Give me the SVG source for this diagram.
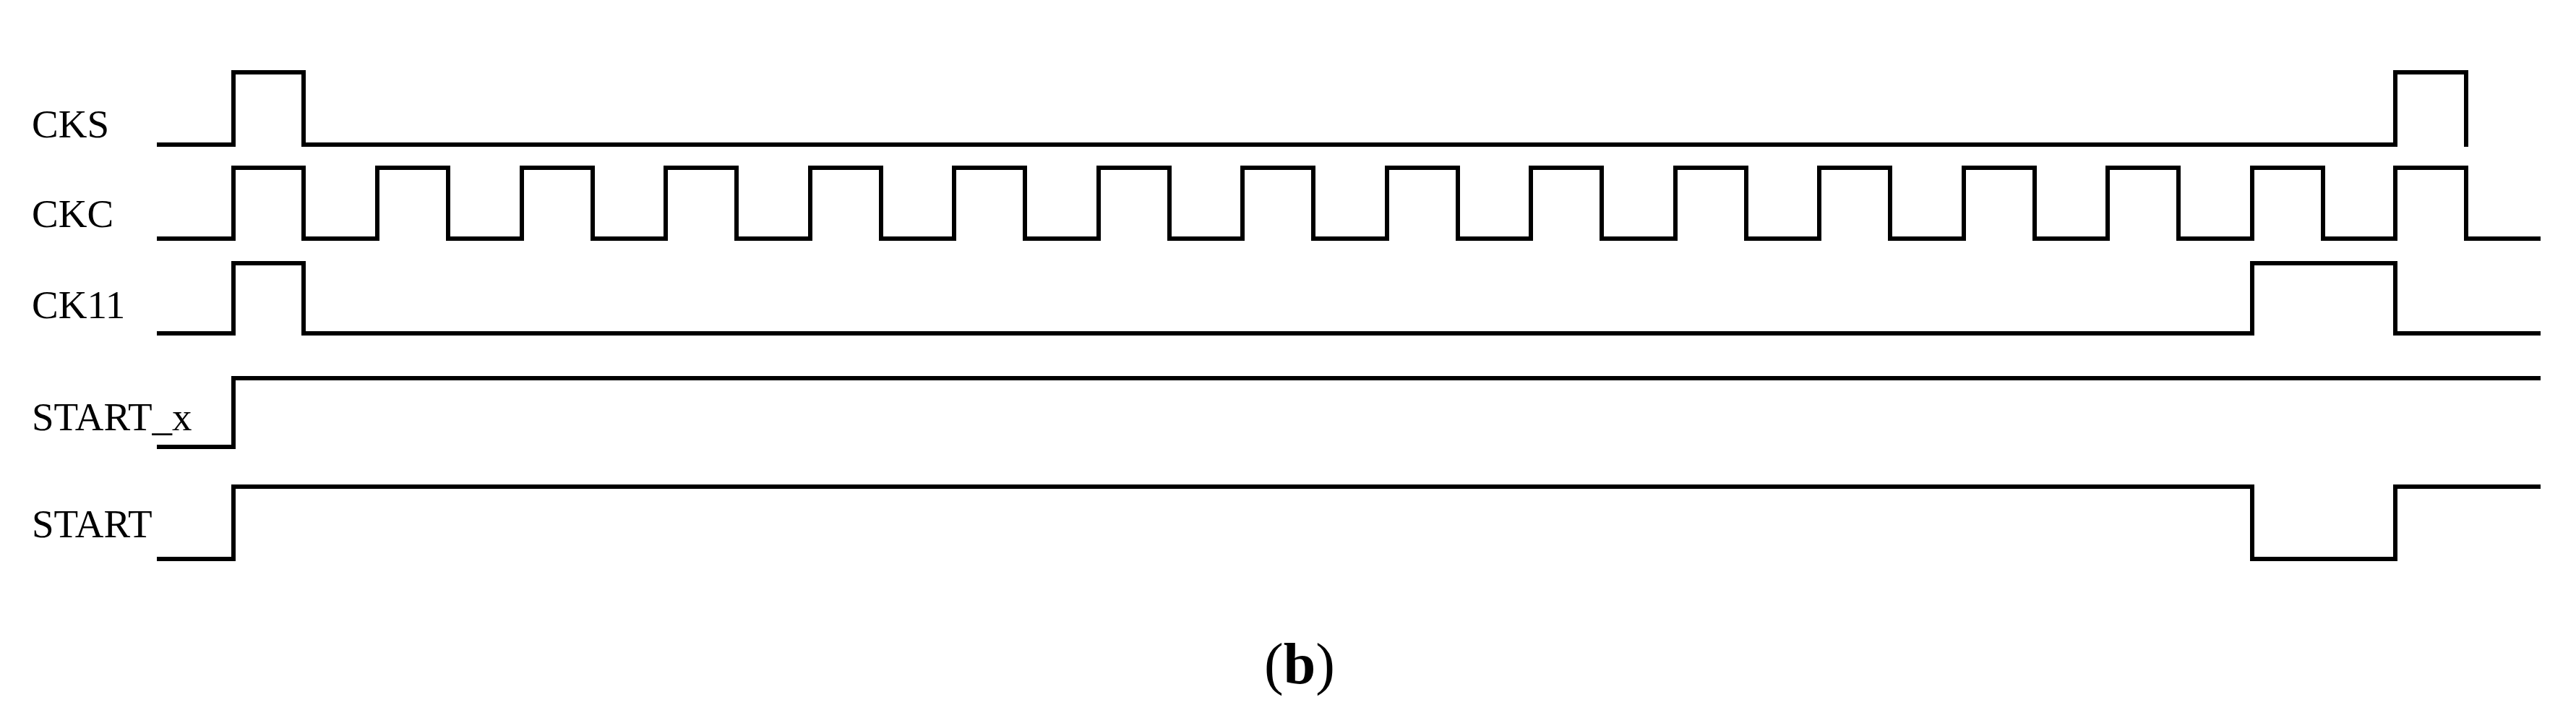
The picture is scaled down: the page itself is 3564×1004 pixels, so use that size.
<svg xmlns="http://www.w3.org/2000/svg" width="3564" height="1004" viewBox="0 0 3564 1004">
<style>
.w{fill:none;stroke:#000;stroke-width:6;stroke-linejoin:miter;stroke-linecap:square}
.l{font-family:"Liberation Serif",serif;font-size:55px;fill:#000}
</style>
<rect width="3564" height="1004" fill="#fff"/>
<g id="labels">
<text class="l" x="44" y="190">CKS</text>
<text class="l" x="44" y="314">CKC</text>
<text class="l" x="44" y="440">CK11</text>
<text class="l" x="44" y="595">START_x</text>
<text class="l" x="44" y="743">START</text>
</g>
<g id="waves">
<path id="cks" class="w" d="M220,200H323V100H420V200H3314V100H3412V200"/>
<path id="ckc" class="w" d="M220,330H323V232H420V330H522V232H620V330H722V232H820V330H921V232H1019V330H1121V232H1219V330H1320V232H1418V330H1520V232H1618V330H1719V232H1817V330H1919V232H2017V330H2118V232H2216V330H2318V232H2416V330H2517V232H2615V330H2717V232H2815V330H2916V232H3014V330H3116V232H3214V330H3314V232H3412V330H3512"/>
<path id="ck11" class="w" d="M220,461H323V364H420V461H3116V364H3314V461H3512"/>
<path id="startx" class="w" d="M220,618H323V523H3512"/>
<path id="start" class="w" d="M220,773H323V673H3116V773H3314V673H3512"/>
</g>
<text x="1798" y="945" text-anchor="middle" font-family="Liberation Serif,serif" font-size="80">(<tspan font-weight="bold">b</tspan>)</text>
</svg>
